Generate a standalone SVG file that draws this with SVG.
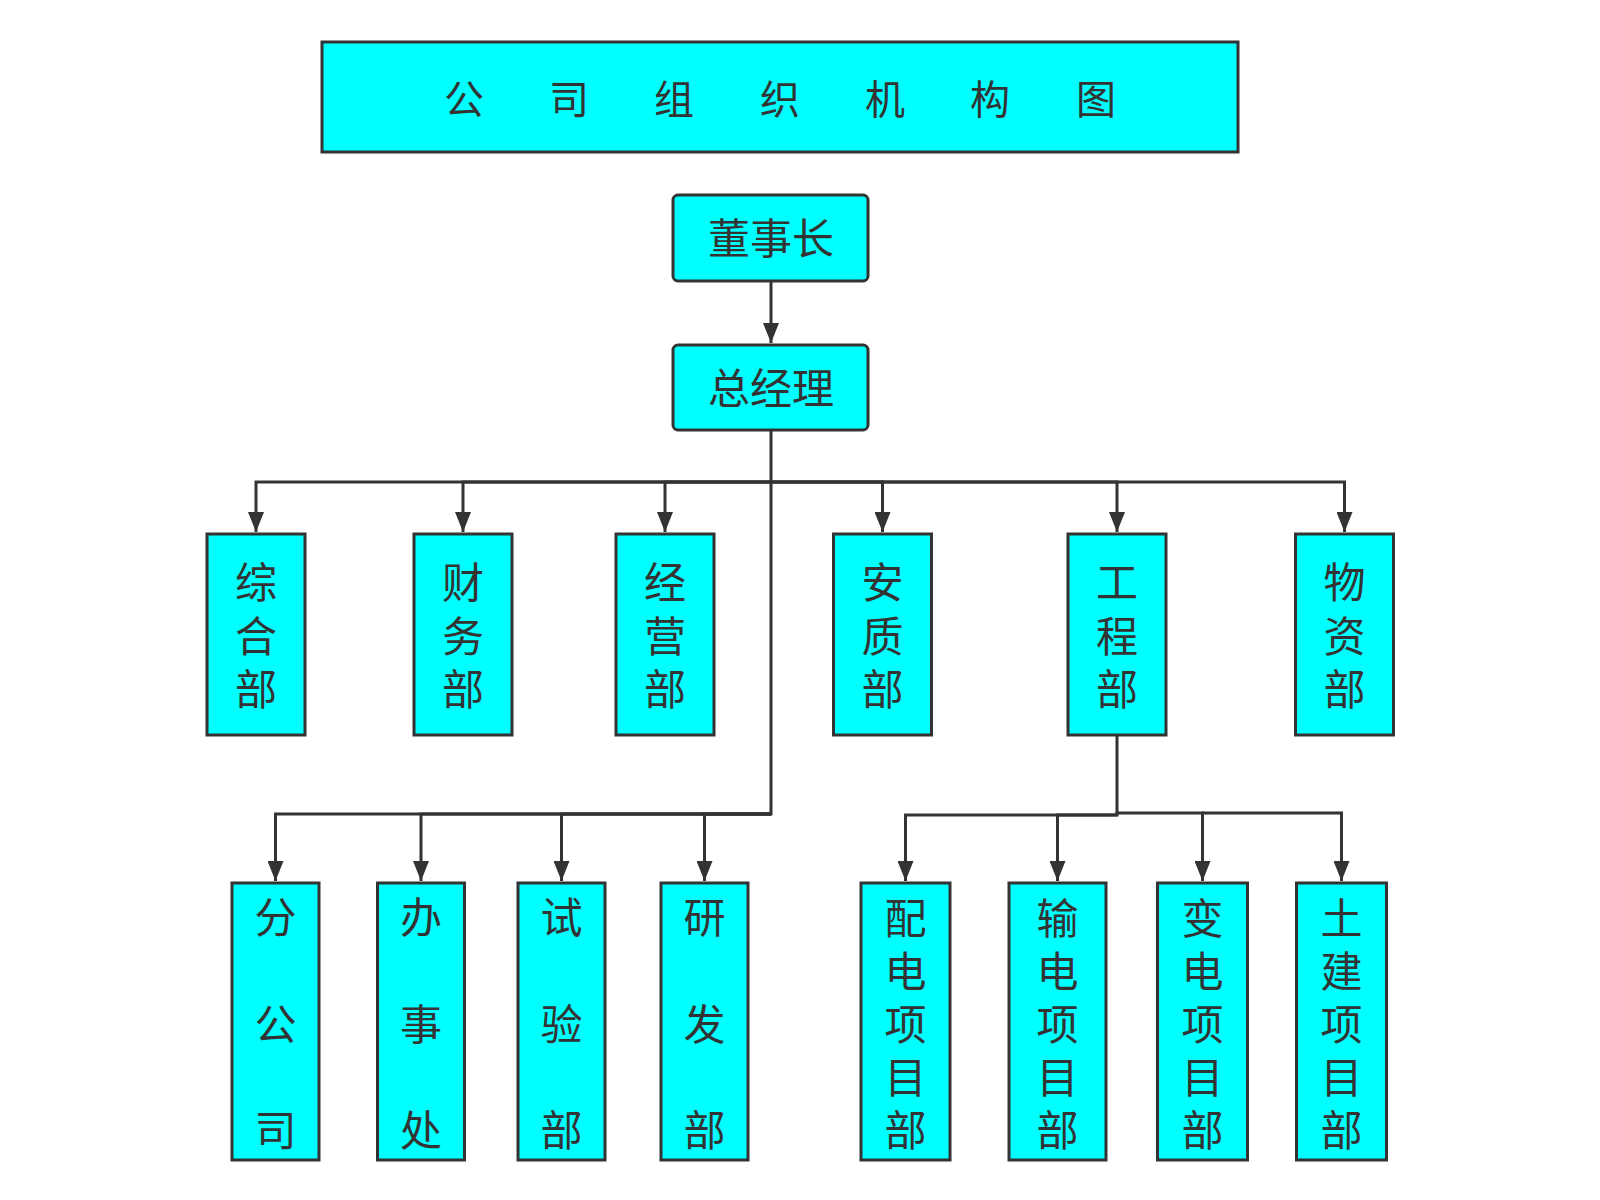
<svg xmlns="http://www.w3.org/2000/svg" width="1600" height="1200" viewBox="0 0 1600 1200">
<defs>
<style>
.box{fill:#00FFFF;stroke:#333333;stroke-width:3}
.t{font-family:"Noto Sans CJK SC","Noto Sans",sans-serif;fill:#333333;text-anchor:middle}
.f42{font-size:42px}
.f40{font-size:40px}
.c{fill:none;stroke:#333333;stroke-width:3}
</style>
<marker id="ah" viewBox="0 0 20 16" refX="20" refY="8" markerWidth="20" markerHeight="16" markerUnits="userSpaceOnUse" orient="auto">
<path d="M0,0 L20,8 L0,16 z" fill="#333333"/>
</marker>
</defs>
<rect width="1600" height="1200" fill="#ffffff"/>

<g id="connectors">
<path class="c" d="M771 281 V343" marker-end="url(#ah)"/>
<path class="c" d="M771 430 V482 H256 V532" marker-end="url(#ah)"/>
<path class="c" d="M771 482 H463 V532" marker-end="url(#ah)"/>
<path class="c" d="M771 482 H665 V532" marker-end="url(#ah)"/>
<path class="c" d="M771 482 H882.5 V532" marker-end="url(#ah)"/>
<path class="c" d="M771 482 H1117 V532" marker-end="url(#ah)"/>
<path class="c" d="M771 482 H1344.5 V532" marker-end="url(#ah)"/>
<path class="c" d="M771 482 V814 H275.5 V881" marker-end="url(#ah)"/>
<path class="c" d="M771 814 H421 V881" marker-end="url(#ah)"/>
<path class="c" d="M771 814 H561.5 V881" marker-end="url(#ah)"/>
<path class="c" d="M771 814 H704.5 V881" marker-end="url(#ah)"/>
<path class="c" d="M1117 735 V815 H905.5 V881" marker-end="url(#ah)"/>
<path class="c" d="M1117 815 H1057.5 V881" marker-end="url(#ah)"/>
<path class="c" d="M1117 815 V813 H1202.5 V881" marker-end="url(#ah)"/>
<path class="c" d="M1202 813 H1341.5 V881" marker-end="url(#ah)"/>
</g>

<g id="title">
<rect class="box" x="322" y="42" width="916" height="110"/>
<text class="t f40" y="114"><tspan x="464">公</tspan><tspan x="569">司</tspan><tspan x="674">组</tspan><tspan x="780">织</tspan><tspan x="885">机</tspan><tspan x="990">构</tspan><tspan x="1096">图</tspan></text>
</g>

<g id="chairman">
<rect class="box" x="673" y="195" width="195" height="86" rx="5"/>
<text class="t f42" x="771" y="254">董事长</text>
</g>

<g id="gm">
<rect class="box" x="673" y="345" width="195" height="85" rx="5"/>
<text class="t f42" x="771" y="404">总经理</text>
</g>

<g id="zonghe">
<rect class="box" x="207" y="534" width="98" height="201"/>
<text class="t f42"><tspan x="256" y="598">综</tspan><tspan x="256" y="652">合</tspan><tspan x="256" y="705">部</tspan></text>
</g>
<g id="caiwu">
<rect class="box" x="414" y="534" width="98" height="201"/>
<text class="t f42"><tspan x="463" y="598">财</tspan><tspan x="463" y="652">务</tspan><tspan x="463" y="705">部</tspan></text>
</g>
<g id="jingying">
<rect class="box" x="616" y="534" width="98" height="201"/>
<text class="t f42"><tspan x="665" y="598">经</tspan><tspan x="665" y="652">营</tspan><tspan x="665" y="705">部</tspan></text>
</g>
<g id="anzhi">
<rect class="box" x="833.5" y="534" width="98" height="201"/>
<text class="t f42"><tspan x="882.5" y="598">安</tspan><tspan x="882.5" y="652">质</tspan><tspan x="882.5" y="705">部</tspan></text>
</g>
<g id="gongcheng">
<rect class="box" x="1068" y="534" width="98" height="201"/>
<text class="t f42"><tspan x="1117" y="598">工</tspan><tspan x="1117" y="652">程</tspan><tspan x="1117" y="705">部</tspan></text>
</g>
<g id="wuzi">
<rect class="box" x="1295.5" y="534" width="98" height="201"/>
<text class="t f42"><tspan x="1344.5" y="598">物</tspan><tspan x="1344.5" y="652">资</tspan><tspan x="1344.5" y="705">部</tspan></text>
</g>

<g id="fengongsi">
<rect class="box" x="232" y="883" width="87" height="277"/>
<text class="t f42"><tspan x="275.5" y="933">分</tspan><tspan x="275.5" y="1040">公</tspan><tspan x="275.5" y="1146">司</tspan></text>
</g>
<g id="banshichu">
<rect class="box" x="377.5" y="883" width="87" height="277"/>
<text class="t f42"><tspan x="421" y="933">办</tspan><tspan x="421" y="1040">事</tspan><tspan x="421" y="1146">处</tspan></text>
</g>
<g id="shiyan">
<rect class="box" x="518" y="883" width="87" height="277"/>
<text class="t f42"><tspan x="561.5" y="933">试</tspan><tspan x="561.5" y="1040">验</tspan><tspan x="561.5" y="1146">部</tspan></text>
</g>
<g id="yanfa">
<rect class="box" x="661" y="883" width="87" height="277"/>
<text class="t f42"><tspan x="704.5" y="933">研</tspan><tspan x="704.5" y="1040">发</tspan><tspan x="704.5" y="1146">部</tspan></text>
</g>

<g id="peidian">
<rect class="box" x="861" y="883" width="89" height="277"/>
<text class="t f42"><tspan x="905.5" y="934">配</tspan><tspan x="905.5" y="987">电</tspan><tspan x="905.5" y="1040">项</tspan><tspan x="905.5" y="1093">目</tspan><tspan x="905.5" y="1146">部</tspan></text>
</g>
<g id="shudian">
<rect class="box" x="1009" y="883" width="97" height="277"/>
<text class="t f42"><tspan x="1057.5" y="934">输</tspan><tspan x="1057.5" y="987">电</tspan><tspan x="1057.5" y="1040">项</tspan><tspan x="1057.5" y="1093">目</tspan><tspan x="1057.5" y="1146">部</tspan></text>
</g>
<g id="biandian">
<rect class="box" x="1157.5" y="883" width="90" height="277"/>
<text class="t f42"><tspan x="1202.5" y="934">变</tspan><tspan x="1202.5" y="987">电</tspan><tspan x="1202.5" y="1040">项</tspan><tspan x="1202.5" y="1093">目</tspan><tspan x="1202.5" y="1146">部</tspan></text>
</g>
<g id="tujian">
<rect class="box" x="1296.5" y="883" width="90" height="277"/>
<text class="t f42"><tspan x="1341.5" y="934">土</tspan><tspan x="1341.5" y="987">建</tspan><tspan x="1341.5" y="1040">项</tspan><tspan x="1341.5" y="1093">目</tspan><tspan x="1341.5" y="1146">部</tspan></text>
</g>
</svg>
